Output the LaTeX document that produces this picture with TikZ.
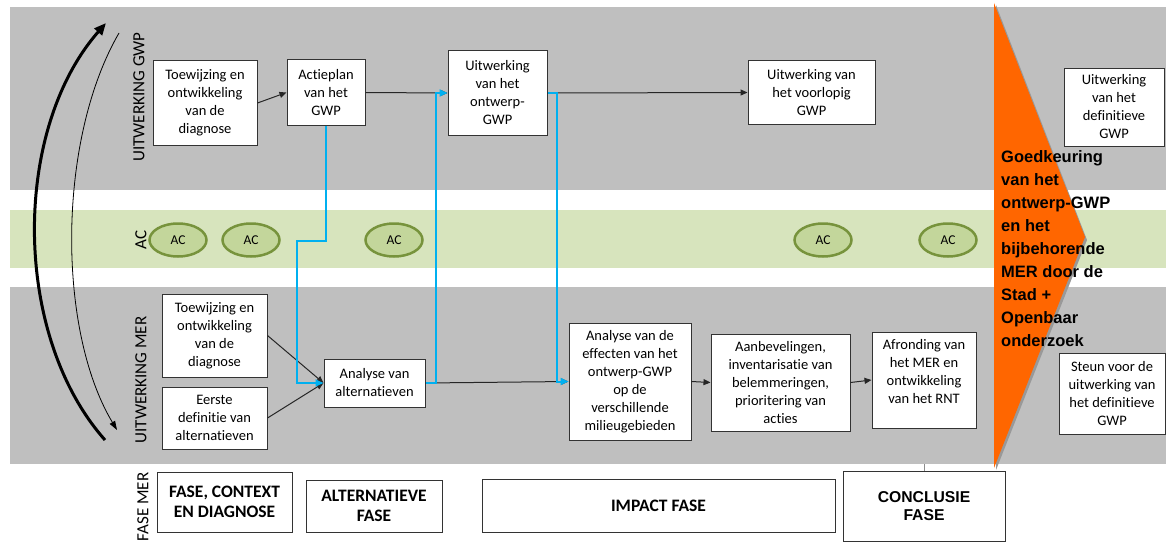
\documentclass[tikz,border=0pt]{standalone}
\usepackage{fontspec}
\setmainfont{Carlito}[Ligatures=NoCommon]
\newfontfamily\arialfont{Liberation Sans}
\usetikzlibrary{arrows.meta,shapes.geometric}
\definecolor{bandgray}{HTML}{BFBFBF}
\definecolor{bandgreen}{HTML}{D7E4BD}
\definecolor{acfill}{HTML}{C3D69B}
\definecolor{acborder}{HTML}{77933C}
\definecolor{approval}{HTML}{FF6600}
\definecolor{flowblue}{HTML}{00B0F0}
\tikzset{
  box/.style={draw=black!80, line width=1pt, fill=white, align=center, inner sep=2pt,
    font=\fontsize{14.5}{18}\selectfont},
  phasebox/.style={draw=black!80, line width=1pt, fill=white, align=center,
    font=\fontsize{17.5}{20}\selectfont\bfseries},
  acnode/.style={ellipse, draw=acborder, line width=2.5pt, fill=acfill, inner sep=0pt,
    minimum width=57pt, minimum height=33pt, font=\fontsize{13.5}{16}\selectfont},
  bandlabel/.style={rotate=90, inner sep=0pt, font=\fontsize{17}{20}\selectfont},
  link/.style={-{Triangle[length=7pt,width=6pt]}, line width=1pt, black!85},
  bluelink/.style={-{Triangle[length=8pt,width=7pt]}, line width=2pt, flowblue},
}
\begin{document}
\begin{tikzpicture}[x=1pt,y=-1pt]
    \useasboundingbox (0,0) rectangle (1166,543);
    \fill[bandgray] (10,7) rectangle (1166,190);
    \fill[bandgreen] (10,210) rectangle (1166,268);
    \fill[bandgray] (10,287) rectangle (1166,464);
    \fill[black!40] (996,5) -- (1087,240) -- (996,470) -- cycle;
    \fill[approval] (994,3) -- (1085,237) -- (994,468) -- cycle;

    \draw[line width=3pt, -{Triangle[length=12pt,width=10pt]}] (105,440) .. controls (12,335) and (12,130) .. (106,23);
    \draw[line width=0.8pt, -{Triangle[length=9pt,width=6pt]}] (119,33) .. controls (57,140) and (57,330) .. (117,430);

    \node[bandlabel] (lgwp) at (139,97) {UITWERKING GWP};
    \node[bandlabel] (lac) at (141,240) {AC};
    \node[bandlabel] (lmer) at (141,380) {UITWERKING MER};
    \node[bandlabel] (lfase) at (143,507) {FASE MER};

    \foreach \x [count=\i] in {178,251,394,823,948}
        \node[acnode] (ac\i) at (\x,240) {AC};

    \node[box, minimum width=104pt, minimum height=84pt] (g1) at (205,103) {Toewijzing en\\ontwikkeling\\van de\\diagnose};
    \node[box, minimum width=78pt, minimum height=65pt] (g2) at (326,92.5) {Actieplan\\van het\\GWP};
    \node[box, minimum width=99pt, minimum height=84pt] (g3) at (497.5,93) {Uitwerking\\van het\\ontwerp-\\GWP};
    \node[box, minimum width=127pt, minimum height=63pt] (g4) at (811.5,92.5) {Uitwerking van\\het voorlopig\\GWP};
    \node[box, minimum width=100pt, minimum height=78pt] (g5) at (1114,107) {Uitwerking\\van het\\definitieve\\GWP};

    \node[box, minimum width=105pt, minimum height=83pt] (m1) at (214.5,335.5) {Toewijzing en\\ontwikkeling\\van de\\diagnose};
    \node[box, minimum width=105pt, minimum height=62pt] (m2) at (214.5,418) {Eerste\\definitie van\\alternatieven};
    \node[box, minimum width=101pt, minimum height=48pt] (m3) at (374.5,383) {Analyse van\\alternatieven};
    \node[box, minimum width=122pt, minimum height=117pt] (m4) at (630,381.5) {Analyse van de\\effecten van het\\ontwerp-GWP\\op de\\verschillende\\milieugebieden};
    \node[box, minimum width=139pt, minimum height=97pt] (m5) at (780.5,382.5) {Aanbevelingen,\\inventarisatie van\\belemmeringen,\\prioritering van\\acties};
    \node[box, minimum width=104pt, minimum height=96pt] (m6) at (924,380) {Afronding van\\het MER en\\ontwikkeling\\van het RNT\\\mbox{}};
    \node[box, minimum width=106pt, minimum height=81pt] (m7) at (1112,393.5) {Steun voor de\\uitwerking van\\het definitieve\\GWP};

    \node[phasebox, minimum width=135pt, minimum height=60pt] (p1) at (224.5,502) {FASE, CONTEXT\\EN DIAGNOSE};
    \node[phasebox, minimum width=136pt, minimum height=52pt] (p2) at (374,506) {ALTERNATIEVE\\FASE};
    \node[phasebox, minimum width=353pt, minimum height=53pt] (p3) at (658.5,505.5) {IMPACT FASE};
    \node[phasebox, font=\arialfont\bfseries\fontsize{15.7}{18}\selectfont, minimum width=162pt, minimum height=70pt] (p4) at (924,506) {CONCLUSIE\\FASE};

    \coordinate (mbot) at (0,464);
    \draw[black!45, line width=1pt] (p4.north) -- (p4.north |- mbot);

    \draw[link] (g1.east) -- (g2.west);
    \draw[link] (g2.east) -- (g3.west);
    \draw[link] (g3.east) -- (g4.west);
    \draw[link] (m1.east) -- (m3.west);
    \draw[link] (m2.east) -- (m3.west);
    \draw[link] (m3.east) -- (m4.west);
    \draw[link] (m4.east) -- (m5.west);
    \draw[link] (m5.east) -- (m6.west);

    \coordinate (j1) at (297,241);
    \coordinate (j2) at (436,241);
    \coordinate (j3) at (557,241);
    \draw[bluelink] (g2.south) |- (j1) |- (m3.west);
    \draw[bluelink] (m3.east) -| (j2) |- (g3.west);
    \draw[bluelink] (g3.east) -| (j3) |- (m4.west);

    \node[anchor=north west, inner sep=0pt, align=left, font=\arialfont\bfseries\fontsize{16.5}{23}\selectfont] (goed) at (1001,150) {Goedkeuring\\van het\\ontwerp-GWP\\en het\\bijbehorende\\MER door de\\Stad +\\Openbaar\\onderzoek};
\end{tikzpicture}
\end{document}
